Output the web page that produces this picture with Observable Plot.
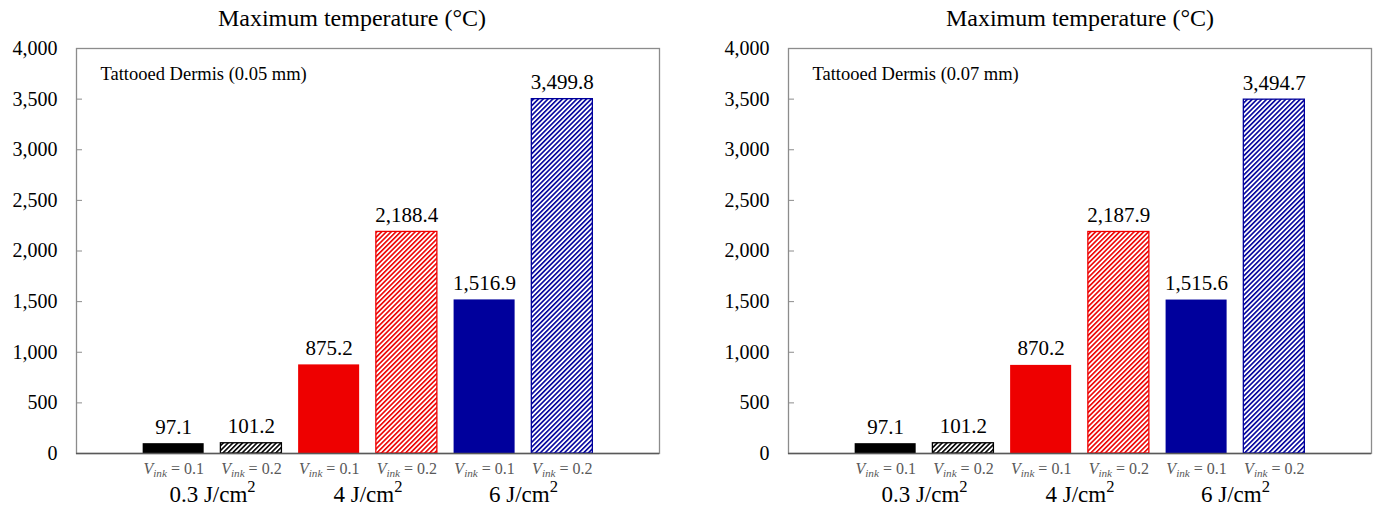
<!DOCTYPE html>
<html><head><meta charset="utf-8">
<script src="https://cdn.jsdelivr.net/npm/d3@7"></script>
<script src="https://cdn.jsdelivr.net/npm/@observablehq/plot@0.6"></script>
<style>
html,body{margin:0;padding:0;background:#fff;}
#root{position:relative;width:1380px;height:509px;overflow:hidden;font-family:"Liberation Serif",serif;}
.panel{position:absolute;top:0;width:690px;height:509px;}
.title{position:absolute;top:3px;width:400px;text-align:center;font-size:24px;line-height:30px;color:#000;white-space:nowrap;font-family:"Liberation Serif",serif;}
.panel svg{position:absolute;left:0;top:40px;}
#root svg, #root svg text, #root svg tspan{font-family:"Liberation Serif",serif !important;}
</style></head><body><div id="root"></div>
<script>
// ---- data ----
const energies = ["0.3", "4", "6"];            // J/cm²
const vinks = ["0.1", "0.2"];                  // V_ink
const panelLabels = ["Tattooed Dermis (0.05 mm)", "Tattooed Dermis (0.07 mm)"];
const temps005 = [97.1, 101.2, 875.2, 2188.4, 1516.9, 3499.8];
const temps007 = [97.1, 101.2, 870.2, 2187.9, 1515.6, 3494.7];
const yTicks = [0, 500, 1000, 1500, 2000, 2500, 3000, 3500, 4000];
const titleText = "Maximum temperature (°C)";

// ---- styles ----
const energyColors = ["#000000", "#EE0000", "#00009C"];
const fmt = d3.format(",.1f");
const halfWidth = 0.3925;

function buildRows(temps) {
  const rows = [];
  energies.forEach((e, ei) => vinks.forEach((v, vi) => {
    const i = ei * vinks.length + vi;
    rows.push({i, energy: e, vink: v, value: temps[i]});
  }));
  return rows;
}

function defsMark(prefix) {
  return () => {
    const defs = d3.create("svg:defs");
    energyColors.forEach((c, k) => {
      const p = defs.append("pattern").attr("id", `${prefix}-hatch${k}`)
        .attr("patternUnits", "userSpaceOnUse").attr("width", 3.4).attr("height", 3.4)
        .attr("patternTransform", "rotate(45)");
      p.append("rect").attr("width", 3.4).attr("height", 3.4).attr("fill", "#fff");
      p.append("rect").attr("width", 1.6).attr("height", 3.4).attr("fill", c);
    });
    return defs.node();
  };
}

const panels = [
  {left: 0, marginLeft: 76, marginRight: 31, titleCenter: 352, temps: temps005, label: panelLabels[0], id: "p1"},
  {left: 690, marginLeft: 98, marginRight: 9, titleCenter: 390, temps: temps007, label: panelLabels[1], id: "p2"}
];

const root = document.getElementById("root");
panels.forEach(cfg => {
  const rows = buildRows(cfg.temps);
  const groups = energies.map((e, ei) => ({energy: e, center: d3.mean(rows.filter(r => r.energy === e), r => r.i)}));
  const hatched = energies.map((e, k) => Plot.rectY(rows.filter(r => r.energy === e && r.vink === vinks[1]), {
    x1: d => d.i - halfWidth, x2: d => d.i + halfWidth, y: "value",
    fill: `url(#${cfg.id}-hatch${k})`, stroke: "energy", strokeWidth: 1.3
  }));
  const svg = Plot.plot({
    width: 690, height: 469,
    marginTop: 8, marginBottom: 56, marginLeft: cfg.marginLeft, marginRight: cfg.marginRight,
    x: {domain: [-1.25, 6.25], axis: null},
    y: {domain: [0, 4000], axis: null},
    color: {domain: energies, range: energyColors},
    style: {fontFamily: "Liberation Serif", background: "transparent", overflow: "visible", color: "#000"},
    marks: [
      defsMark(cfg.id),
      Plot.frame({stroke: "#8c8c8c", strokeWidth: 1.3}),
      Plot.axisY({ticks: yTicks, tickSize: 0, tickPadding: 19, tickFormat: d3.format(","), fontSize: 20, label: null}),
      Plot.axisY({ticks: yTicks, tickSize: 6, dx: 6, tickFormat: () => "", stroke: "#8c8c8c", label: null}),
      Plot.rectY(rows.filter(r => r.vink === vinks[0]), {
        x1: d => d.i - halfWidth, x2: d => d.i + halfWidth, y: "value", fill: "energy"
      }),
      ...hatched,
      Plot.ruleY([0], {stroke: "#595959", strokeWidth: 1.5}),
      Plot.text(rows, {x: "i", y: "value", text: d => fmt(d.value), dy: -10, lineAnchor: "bottom", fontSize: 21}),
      Plot.text(rows, {x: "i", y: 0, text: d => "V§" + d.vink, dy: 20, lineAnchor: "bottom", fontSize: 16, fill: "#595959"}),
      Plot.text(groups, {x: "center", y: 0, text: d => "G§" + d.energy, dy: 48, lineAnchor: "bottom", fontSize: 23}),
      Plot.text([cfg.label], {frameAnchor: "top-left", dx: 24, dy: 31, lineAnchor: "bottom", textAnchor: "start", fontSize: 18.5})
    ]
  });
  // rich text: subscripts / superscripts
  d3.select(svg).selectAll("text").each(function() {
    const t = this.textContent;
    const sel = d3.select(this);
    if (t.startsWith("V§")) {
      const val = t.slice(2);
      sel.text(null);
      sel.append("tspan").attr("font-style", "italic").text("V");
      sel.append("tspan").attr("font-style", "italic").attr("font-size", "70%").attr("dy", 3).text("ink");
      sel.append("tspan").attr("dy", -3).text(" = " + val);
    } else if (t.startsWith("G§")) {
      const val = t.slice(2);
      sel.text(null);
      sel.append("tspan").text(val + " J/cm");
      sel.append("tspan").attr("font-size", "72%").attr("dy", -10).text("2");
    }
  });
  const div = document.createElement("div");
  div.className = "panel";
  div.style.left = cfg.left + "px";
  const title = document.createElement("div");
  title.className = "title";
  title.style.left = (cfg.titleCenter - 200) + "px";
  title.textContent = titleText;
  div.appendChild(title);
  div.appendChild(svg);
  root.appendChild(div);
});
</script>
</body></html>
